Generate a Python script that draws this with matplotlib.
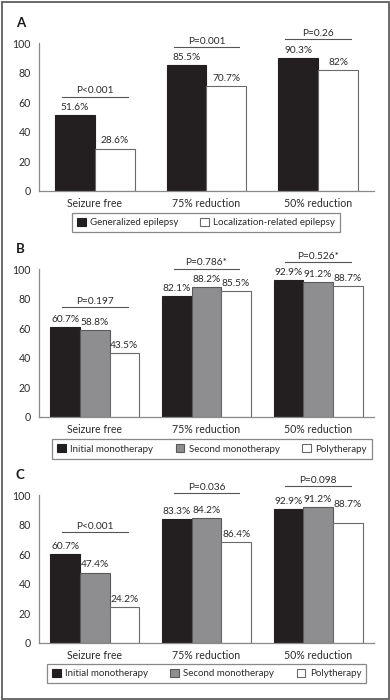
import numpy as np
import matplotlib
matplotlib.use("Agg")
import matplotlib.pyplot as plt
from matplotlib.patches import Rectangle, Patch

plt.rcParams['font.family'] = ['Lato', 'DejaVu Sans']

categories = ["Seizure free", "75% reduction", "50% reduction"]

# panel A
a_series = ["Generalized epilepsy", "Localization-related epilepsy"]
a_values = [[51.6, 85.5, 90.3], [28.6, 70.7, 82.0]]
a_labels = [["51.6%", "85.5%", "90.3%"], ["28.6%", "70.7%", "82%"]]
a_pvals = ["P<0.001", "P=0.001", "P=0.26"]
a_pline = [63.8, 97.3, 102.8]

# panel B
b_series = ["Initial monotherapy", "Second monotherapy", "Polytherapy"]
b_values = [[60.7, 82.1, 92.9], [58.8, 88.2, 91.2], [43.5, 85.5, 88.7]]
b_labels = [["60.7%", "82.1%", "92.9%"], ["58.8%", "88.2%", "91.2%"], ["43.5%", "85.5%", "88.7%"]]
b_pvals = ["P=0.197", "P=0.786*", "P=0.526*"]
b_pline = [74.2, 100.4, 104.7]

# panel C (bar heights as drawn; printed labels differ from some heights)
c_series = ["Initial monotherapy", "Second monotherapy", "Polytherapy"]
c_values = [[60.2, 83.7, 90.4], [47.6, 84.6, 92.2], [24.4, 68.6, 81.1]]
c_labels = [["60.7%", "83.3%", "92.9%"], ["47.4%", "84.2%", "91.2%"], ["24.2%", "86.4%", "88.7%"]]
c_label_at = [[60.2, 83.7, 90.4], [47.6, 84.6, 92.2], [24.4, 68.6, 88.7]]
c_pvals = ["P<0.001", "P=0.036", "P=0.098"]
c_pline = [74.8, 101.4, 106.1]

TEXT = '#2b2b2b'
SPINE = '#8a8a8a'
fills = ['#231f20', '#8e8e90', 'white']
edges = ['#231f20', '#5a5a5a', '#6a6a6a']

W, H = 390, 700
fig = plt.figure(figsize=(W / 100, H / 100), dpi=100)
fig.patch.set_facecolor('white')
fig.add_artist(Rectangle((1.5 / W, 1.5 / H), 1 - 3 / W, 1 - 3 / H, transform=fig.transFigure,
                         fill=False, edgecolor='#5e5e5e', linewidth=1.3))


def panel(letter, y0, values, labels, series, pvals, pline, width, leg_center, ncol_fills, label_at=None):
    ax = fig.add_axes([39 / W, 1 - y0 / H, 335 / W, 147.4 / H])
    x = np.arange(len(categories))
    n = len(values)
    for i in range(n):
        offs = (i - (n - 1) / 2) * width
        ax.bar(x + offs, values[i], width, color=ncol_fills[i], edgecolor=edges[fills.index(ncol_fills[i])],
               linewidth=0.8, zorder=2)
        anchors = values[i] if label_at is None else label_at[i]
        for j in range(len(categories)):
            ax.annotate(labels[i][j], (x[j] + offs, anchors[j]), xytext=(0, 2.2),
                        textcoords='offset points', ha='center', va='bottom',
                        fontsize=7.3, color=TEXT, annotation_clip=False)
    for j in range(len(categories)):
        ax.plot([x[j] - 0.295, x[j] + 0.295], [pline[j], pline[j]], color='#555555',
                linewidth=0.8, clip_on=False)
        ax.annotate(pvals[j], (x[j], pline[j]), xytext=(0, 1.0), textcoords='offset points',
                    ha='center', va='bottom', fontsize=7.3, color=TEXT, annotation_clip=False)
    ax.set_xlim(-0.5, 2.5)
    ax.set_ylim(0, 100)
    ax.set_yticks(range(0, 101, 20))
    ax.set_xticks(x)
    ax.set_xticklabels(categories)
    ax.tick_params(length=0, labelsize=7.6, colors=TEXT)
    ax.tick_params(axis='y', pad=6)
    ax.tick_params(axis='x', pad=5)
    for s in ['top', 'right']:
        ax.spines[s].set_visible(False)
    for s in ['left', 'bottom']:
        ax.spines[s].set_color(SPINE)
        ax.spines[s].set_linewidth(0.9)
    ax.set_facecolor('none')

    handles = [Patch(facecolor=ncol_fills[i], edgecolor=edges[fills.index(ncol_fills[i])], linewidth=0.8)
               for i in range(n)]
    leg = fig.legend(handles, series, loc='center', ncol=n,
                     bbox_to_anchor=(leg_center[0] / W, 1 - leg_center[1] / H),
                     fontsize=7.0, frameon=True, fancybox=False, handlelength=0.9, handleheight=0.9,
                     handletextpad=0.45, columnspacing=2.2 if n == 2 else 2.3, borderpad=0.5)
    leg.get_frame().set_edgecolor('#6a6a6a')
    leg.get_frame().set_linewidth(0.9)
    for t in leg.get_texts():
        t.set_color(TEXT)

    fig.text(16 / W, 1 - (y0 - 167.5) / H, letter, fontsize=9.5, fontweight='bold', color='#1a1a1a',
             ha='left', va='center')
    return ax


panel("A", 190.7, a_values, a_labels, a_series, a_pvals, a_pline, 0.357, (206, 222.5),
      [fills[0], fills[2]])
panel("B", 416.7, b_values, b_labels, b_series, b_pvals, b_pline, 0.265, (212, 449), fills)
panel("C", 642.7, c_values, c_labels, c_series, c_pvals, c_pline, 0.266, (206.5, 673.5), fills,
      label_at=c_label_at)

fig.savefig("out.png", dpi=100)
